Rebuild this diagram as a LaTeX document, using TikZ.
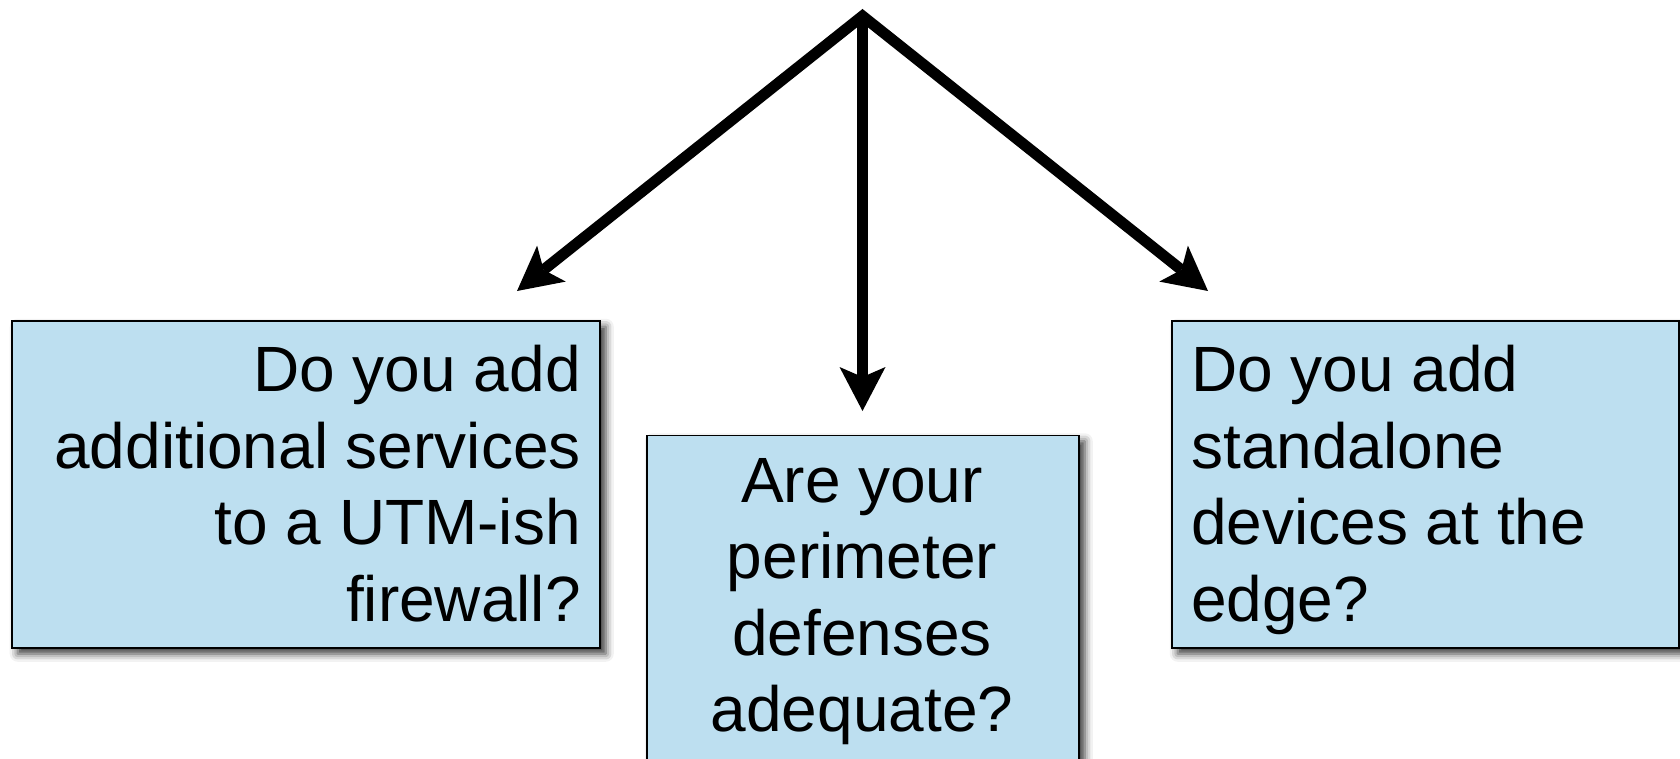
\documentclass[tikz,border=0pt]{standalone}
\usepackage{fontspec}
\setmainfont{Liberation Sans}
\usetikzlibrary{arrows.meta,shadows.blur}
\definecolor{qfill}{RGB}{189,223,240}
\tikzset{
  qbox/.style={draw=black, line width=1.5pt, fill=qfill, inner sep=0pt, anchor=north west,
    blur shadow={shadow xshift=6pt, shadow yshift=-6pt, shadow blur radius=8pt, shadow opacity=80}},
  qtext/.style={font=\fontsize{64}{76.5}\selectfont, inner sep=0pt},
  link/.style={line width=11pt, line join=miter}
}
\begin{document}
\begin{tikzpicture}[x=1pt, y=1pt,
  >={Stealth[length=44pt, width=46pt, inset=10pt, line width=0pt]}]
\useasboundingbox (0,0) rectangle (1680,-759);

% question boxes
\node[qbox, minimum width=588pt, minimum height=327pt] (left)  at (11,-320) {};
\node[qbox, minimum width=432pt, minimum height=360pt] (mid)   at (646,-434.5) {};
\node[qbox, minimum width=507pt, minimum height=327pt] (right) at (1171,-320) {};

% question texts
\node[qtext, align=right, anchor=north east] (leftq) at (581,-345)
  {Do you add\\additional services\\to a UTM-ish\\firewall?};
\node[qtext, align=center, anchor=north] (midq) at (862,-458)
  {Are your\\perimeter\\defenses\\adequate?};
\node[qtext, align=left, anchor=north west] (rightq) at (1191,-345)
  {Do you add\\standalone\\devices at the\\edge?};

% branching arrows
\coordinate (apex) at (862.5,-16);
\coordinate (tipL) at (517,-291);
\coordinate (tipM) at (862.5,-411);
\coordinate (tipR) at (1208,-291);
\draw[link, <->] (tipL) -- (apex) -- (tipR);
\draw[link, ->] (apex) -- (tipM);
\end{tikzpicture}
\end{document}
